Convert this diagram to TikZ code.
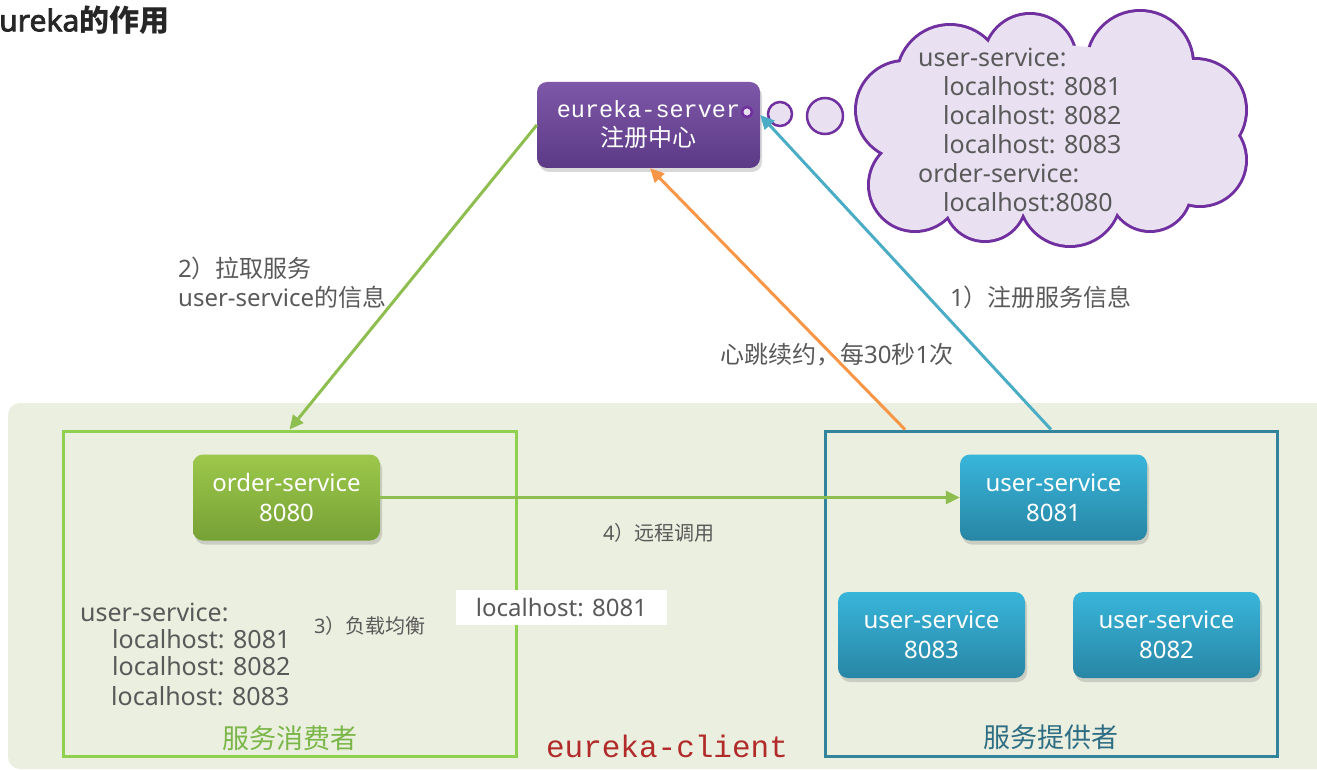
\documentclass[tikz,border=0pt]{standalone}
\usepackage{fontspec}
\setmainfont{Noto Sans}
\setmonofont{Liberation Mono}
\newfontfamily\cjk{Noto Sans CJK SC}
\newfontfamily\headfont{Noto Sans}[FakeBold=2.5]
\newcommand\hz[1]{{\cjk #1}}
\usetikzlibrary{shapes.symbols,shadows,arrows.meta}

\definecolor{panelbg}{HTML}{EBEFDF}
\definecolor{consumer}{HTML}{8FD14F}
\definecolor{provider}{HTML}{31849B}
\definecolor{srvtop}{HTML}{7E57A8}
\definecolor{srvbot}{HTML}{5C3A86}
\definecolor{grntop}{HTML}{9DC84B}
\definecolor{grnbot}{HTML}{76A135}
\definecolor{blutop}{HTML}{38B5DA}
\definecolor{blubot}{HTML}{2886A5}
\definecolor{cloudfill}{HTML}{E9E1F1}
\definecolor{cloudline}{HTML}{7030A0}
\definecolor{pullline}{HTML}{8DBE4F}
\definecolor{beatline}{HTML}{F79646}
\definecolor{regline}{HTML}{4BACC6}
\definecolor{labeltext}{HTML}{595959}
\definecolor{titletext}{HTML}{262626}
\definecolor{clientred}{HTML}{B22B2B}
\definecolor{consumertxt}{HTML}{7AB648}
\definecolor{providertxt}{HTML}{2E6E84}

\begin{document}
\begin{tikzpicture}[x=1pt,y=-1pt,
  lbl/.style={text=labeltext, inner sep=0pt, anchor=west, font=\fontsize{24}{29}\selectfont},
  small/.style={lbl, font=\fontsize{20}{24}\selectfont},
  listtxt/.style={lbl, font=\fontsize{25}{29}\selectfont},
  svc/.style={rounded corners=10pt, minimum width=187pt, minimum height=86pt,
    align=center, text=white, inner sep=0pt, font=\fontsize{24}{30}\selectfont,
    drop shadow={shadow xshift=2pt, shadow yshift=-4pt, opacity=.3}},
  greensvc/.style={svc, top color=grntop, bottom color=grnbot},
  bluesvc/.style={svc, top color=blutop, bottom color=blubot},
  group/.style={draw, line width=3pt, inner sep=0pt},
  link/.style={line width=3pt, -{Triangle[length=14pt,width=13pt]}},
  bubble/.style={draw=cloudline, line width=2.5pt, fill=cloudfill},
]
\useasboundingbox (0,0) rectangle (1317,770);

% title
\node[anchor=west, inner sep=0pt, text=titletext,
      font=\headfont\fontsize{30}{34}\selectfont] (title) at (-1,20) {ureka{\bfseries\hz{的作用}}};

% client area
\fill[panelbg, rounded corners=12pt] (8,403) rectangle (1345,769);
\node[group, draw=consumer, minimum width=453pt, minimum height=325pt] (consumerbox) at (289.5,593.5) {};
\node[group, draw=provider, minimum width=452pt, minimum height=325pt] (providerbox) at (1051,593.5) {};

% registry
\node[rounded corners=10pt, minimum width=223pt, minimum height=86pt, inner sep=0pt,
      top color=srvtop, bottom color=srvbot, text=white, align=center,
      font=\fontsize{24}{29}\selectfont,
      drop shadow={shadow xshift=2pt, shadow yshift=-4pt, opacity=.3}] (server) at (648.5,125)
  {{\fontsize{23.5}{29}\selectfont\ttfamily eureka-server}\\\hz{注册中心}};

% thought bubble with the registry contents
\draw[bubble] (747,112) circle (5pt);
\draw[bubble] (780,114) circle (12pt);
\draw[bubble] (825,116) circle (18pt);
\def\puffs{(905,110) circle (48pt) (915,185) circle (45pt) (950,78) circle (52pt)
  (1030,60) circle (45pt) (1140,64) circle (52pt) (1195,110) circle (50pt)
  (1200,160) circle (45pt) (1150,190) circle (40pt) (1070,195) circle (50pt)
  (985,200) circle (40pt)}
\draw[cloudline, line width=6pt] \puffs;
\fill[cloudfill] \puffs (1053,130) ellipse (160pt and 85pt);
\coordinate (registry) at (1053,128);
\node[listtxt] (r1) at (918,57) {user-service:};
\node[listtxt] (r2) at (943,86) {localhost: 8081};
\node[listtxt] (r3) at (943,115) {localhost: 8082};
\node[listtxt] (r4) at (943,144) {localhost: 8083};
\node[listtxt] (r5) at (918,173) {order-service:};
\node[listtxt] (r6) at (943,202) {localhost:8080};

% services
\node[greensvc] (order) at (286.5,497.5) {order-service\\8080};
\node[bluesvc] (user1) at (1053.5,497.5) {user-service\\8081};
\node[bluesvc] (user3) at (931.5,635) {user-service\\8083};
\node[bluesvc] (user2) at (1166.5,635) {user-service\\8082};

% connectors
\draw[link, pullline] (server.west) -- (consumerbox.north);
\draw[link, beatline] ([xshift=-146pt]providerbox.north) -- ([xshift=1.5pt]server.south);
\draw[link, regline] (providerbox.north) -- ([yshift=10pt]server.east);
\draw[link, pullline] (order.east) -- (user1.west);

% labels
\node[lbl] (pull1) at (178,268) {2\hz{）拉取服务}};
\node[lbl] (pull2) at (178,297) {user-service\hz{的信息}};
\node[lbl] (reg) at (950,297) {1\hz{）注册服务信息}};
\node[lbl] (beat) at (720,355) {\hz{心跳续约，每}30\hz{秒}1\hz{次}};
\node[small] (call) at (603,533) {4\hz{）远程调用}};
\node[small] (lb) at (314,626) {3\hz{）负载均衡}};
\node[fill=white, text=labeltext, minimum width=211pt, minimum height=35pt, inner sep=0pt,
      font=\fontsize{24}{29}\selectfont] (pick) at (561.5,607.5) {localhost: 8081};

% local copy of the registry
\node[listtxt] (c1) at (80,612) {user-service:};
\node[listtxt] (c2) at (112,639) {localhost: 8081};
\node[listtxt] (c3) at (112,666) {localhost: 8082};
\node[listtxt] (c4) at (111,696) {localhost: 8083};

% group captions
\node[inner sep=0pt, text=consumertxt, font=\fontsize{27}{30}\selectfont] (consumercap) at (290,738) {\hz{服务消费者}};
\node[inner sep=0pt, text=providertxt, font=\fontsize{27}{30}\selectfont] (providercap) at (1051,737) {\hz{服务提供者}};
\node[inner sep=0pt, text=clientred, font=\ttfamily\fontsize{31}{34}\selectfont] (client) at (667,746) {eureka-client};
\end{tikzpicture}
\end{document}
